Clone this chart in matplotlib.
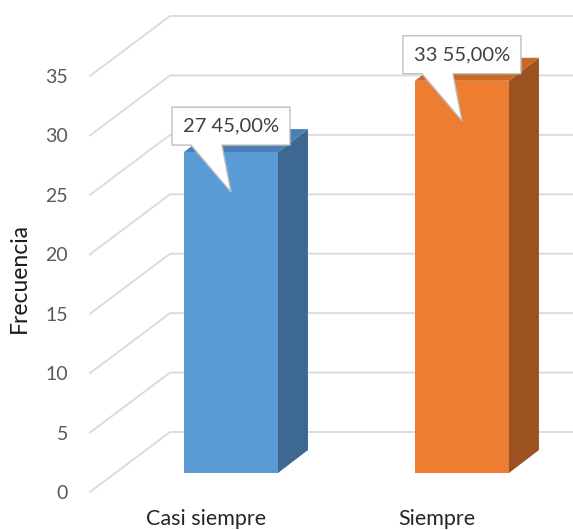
import matplotlib
matplotlib.use("Agg")
import matplotlib.pyplot as plt
from matplotlib.patches import Polygon
from matplotlib.transforms import ScaledTranslation

plt.rcParams['font.family'] = ['Lato', 'DejaVu Sans']

categories = ['Casi siempre', 'Siempre']
frecuencia = [27, 33]
front_colors = ['#5b9bd5', '#ed7d31']
top_colors = ['#4a80b6', '#c8692a']
side_colors = ['#3c6892', '#9b5120']
yticks = [0, 5, 10, 15, 20, 25, 30, 35]

W, H = 573, 530
fig = plt.figure(figsize=(W / 100, H / 100), dpi=100)
ax = fig.add_axes([90 / W, 38 / H, 483 / W, 416 / H])
ax.set_ylim(0, 35)
ax.set_xlim(-0.502, 1.589)
for s in ax.spines.values():
    s.set_visible(False)

# pixels per data unit
sx = 483 / (1.589 + 0.502)
sy = 416 / 35.0


def px(dx, dy):
    return dx / sx, dy / sy


# depth planes (pixel offsets from the tick plane)
bar_dx, bar_dy = px(25, 19)
side_dx, side_dy = px(30, 23)
wall_dx, wall_dy = px(80, 60)
bar_w = 94 / sx

# side wall diagonals + back wall gridlines
x0, x1 = ax.get_xlim()
for v in yticks:
    ax.plot([x0, x0 + wall_dx, x1 + 1], [v, v + wall_dy, v + wall_dy],
            color='#dcdcdc', lw=1.4, clip_on=False, zorder=0)

xs = list(range(len(categories)))
total = sum(frecuencia)
for i, (x, v) in enumerate(zip(xs, frecuencia)):
    xc = x + bar_dx
    ax.bar(xc, v, bottom=bar_dy, width=bar_w, color=front_colors[i],
           zorder=3, clip_on=False)
    xl, xr = xc - bar_w / 2, xc + bar_w / 2
    yb, yt = bar_dy, bar_dy + v
    side = Polygon([(xr, yb), (xr, yt), (xr + side_dx, yt + side_dy),
                    (xr + side_dx, yb + side_dy)], closed=True,
                   facecolor=side_colors[i], edgecolor='none', zorder=2,
                   clip_on=False)
    top = Polygon([(xl, yt), (xr, yt), (xr + side_dx, yt + side_dy),
                   (xl + side_dx, yt + side_dy)], closed=True,
                  facecolor=top_colors[i], edgecolor='none', zorder=2,
                  clip_on=False)
    ax.add_patch(side)
    ax.add_patch(top)

    # callout label anchored at the top of the front face
    tr = fig.dpi_scale_trans + ScaledTranslation(xc, yt, ax.transData)
    pts = [(-59, 45), (59, 45), (59, 7), (-9, 7), (0, -40), (-40, 7), (-59, 7)]
    callout = Polygon([(a / 100, b / 100) for a, b in pts], closed=True,
                      transform=tr, facecolor='white', edgecolor='#bfbfbf',
                      lw=1.0, zorder=5, clip_on=False)
    ax.add_patch(callout)
    pct = f"{v / total * 100:.2f}".replace('.', ',')
    ax.text(0, 0.26, f"{v} {pct}%", transform=tr, ha='center', va='center',
            fontsize=14.5, color='#404040', zorder=6)

ax.set_yticks(yticks)
ax.tick_params(axis='y', length=0, pad=15.8, labelsize=14, labelcolor='#595959')
ax.set_xticks(xs)
ax.set_xticklabels(categories)
ax.tick_params(axis='x', length=0, pad=12.5, labelsize=15.5, labelcolor='#262626')

ax.set_ylabel('Frecuencia', fontsize=16.5, color='#1a1a1a')
ax.yaxis.set_label_coords((19 - 90) / 483, (492 - 278) / 416)
ax.yaxis.label.set_verticalalignment('center')

fig.savefig('out.png', dpi=100)
